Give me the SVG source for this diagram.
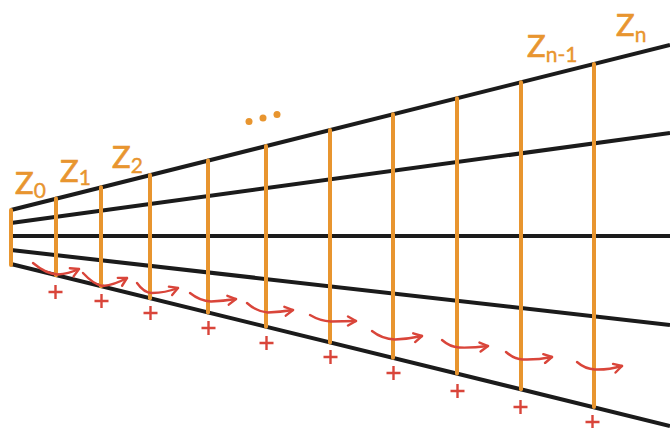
<svg xmlns="http://www.w3.org/2000/svg" width="670" height="428" viewBox="0 0 670 428">
<style>
.ray{stroke:#1b1b1b;stroke-width:4;fill:none}
.v{stroke:#E8952F;stroke-width:4;stroke-linecap:round}
.lbl{font-family:Lato,"Open Sans","Liberation Sans",sans-serif;fill:#E8952F;stroke:#E8952F;stroke-width:0.7;font-size:31px}
.sub{font-size:21px;stroke-width:0.4}
.arr{stroke:#D9453A;stroke-width:2.4;fill:none;stroke-linecap:round;marker-end:url(#ah)}
.plus{stroke:#D9453A;stroke-width:2.4;fill:none}
</style>
<defs>
<marker id="ah" viewBox="0 0 12 12" refX="10" refY="6" markerWidth="12" markerHeight="12" markerUnits="userSpaceOnUse" orient="auto">
<polyline points="2,1.5 10,6 2,10.5" fill="none" stroke="#D9453A" stroke-width="2.4" stroke-linecap="round" stroke-linejoin="round"/>
</marker>
</defs>
<g id="connectors">
<line class="ray" x1="11" y1="210" x2="670" y2="45"/>
<line class="ray" x1="11" y1="223" x2="670" y2="133"/>
<line class="ray" x1="11" y1="236" x2="670" y2="236"/>
<line class="ray" x1="11" y1="250" x2="670" y2="325"/>
<line class="ray" x1="11" y1="264" x2="670" y2="426"/>
</g>
<g id="z0"><line class="v" x1="11" y1="210" x2="11" y2="265"/><text class="lbl" x="15" y="194">Z<tspan class="sub" dy="4">0</tspan></text></g>
<g id="z1"><line class="v" x1="56" y1="198.5" x2="56" y2="275.3"/><text class="lbl" x="60" y="182">Z<tspan class="sub" dy="3">1</tspan></text></g>
<g id="z2"><line class="v" x1="101" y1="187.3" x2="101" y2="286.3"/><text class="lbl" x="112" y="168">Z<tspan class="sub" dy="5">2</tspan></text></g>
<g id="z3"><line class="v" x1="150" y1="175" x2="150" y2="298.3"/></g>
<g id="z4"><line class="v" x1="208" y1="160.5" x2="208" y2="312.5"/></g>
<g id="z5"><line class="v" x1="266" y1="146" x2="266" y2="326.7"/></g>
<g id="z6"><line class="v" x1="330" y1="130" x2="330" y2="342.4"/></g>
<g id="z7"><line class="v" x1="393" y1="114.3" x2="393" y2="357.8"/></g>
<g id="z8"><line class="v" x1="457" y1="98.3" x2="457" y2="373.5"/></g>
<g id="zn1"><line class="v" x1="521" y1="82.3" x2="521" y2="389.2"/><text class="lbl" x="527" y="57">Z<tspan class="sub" dy="5">n-1</tspan></text></g>
<g id="zn1b"><line class="v" x1="594" y1="64" x2="594" y2="407"/></g>
<g id="zn"><text class="lbl" x="616" y="36">Z<tspan class="sub" dy="6">n</tspan></text></g>
<g id="dots" fill="#E8952F"><circle cx="249" cy="121.5" r="3.5"/><circle cx="263" cy="118" r="3.5"/><circle cx="277" cy="114.5" r="3.5"/></g>
<g id="arrows">
<path class="arr" d="M33,263 Q46,274 58,274.5 Q68,274 79,269"/>
<path class="arr" d="M83,273 Q94,285 103,286 Q114,285 127,278"/>
<path class="arr" d="M137,283 Q144,293 152,293 Q165,293 178,288"/>
<path class="arr" d="M190,293 Q200,301 211,301.5 Q223,301 236,299"/>
<path class="arr" d="M247,303 Q257,312 268,312.5 Q280,312 293,310"/>
<path class="arr" d="M310,315 Q320,321 331,321.5 Q343,321 356,321"/>
<path class="arr" d="M372,331 Q382,339 395,339.5 Q408,339 422,336"/>
<path class="arr" d="M442,340 Q450,347 459,347.5 Q472,348 488,346"/>
<path class="arr" d="M506,352 Q514,359 523,359.5 Q537,360 552,357"/>
<path class="arr" d="M577,362 Q585,369 595,369.5 Q608,370 622,366"/>
</g>
<g id="plus">
<path class="plus" d="M48.5,292h14M55.5,285v14"/>
<path class="plus" d="M94.5,301h14M101.5,294v14"/>
<path class="plus" d="M143.5,313h14M150.5,306v14"/>
<path class="plus" d="M201.5,328h14M208.5,321v14"/>
<path class="plus" d="M259.5,343h14M266.5,336v14"/>
<path class="plus" d="M323.5,357h14M330.5,350v14"/>
<path class="plus" d="M386.5,373h14M393.5,366v14"/>
<path class="plus" d="M450.5,391h14M457.5,384v14"/>
<path class="plus" d="M513.5,407h14M520.5,400v14"/>
<path class="plus" d="M585.5,422h14M592.5,415v14"/>
</g>
</svg>
